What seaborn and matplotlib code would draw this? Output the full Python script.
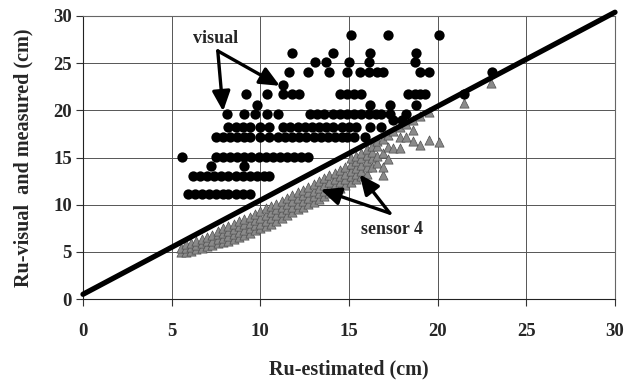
import matplotlib
matplotlib.use("Agg")
import matplotlib.pyplot as plt
import seaborn as sns
import pandas as pd

# ---- data ----
# "visual" (black circles): discrete measured levels and x positions per level
visual_levels = [28.0, 26.1, 25.1, 24.1, 22.7, 21.7, 20.6, 19.6, 19.0, 18.2, 17.2, 15.1, 14.1, 13.0, 11.1]
visual_xs = [
    [15.1, 17.2, 20.1],
    [11.8, 14.1, 16.2, 18.8],
    [13.1, 13.7, 15.0, 16.1, 18.7],
    [11.6, 12.7, 13.9, 14.9, 15.6, 16.1, 16.6, 16.9, 19.0, 19.5, 23.05],
    [11.3],
    [9.2, 10.4, 11.3, 11.8, 12.2, 14.5, 14.9, 15.3, 15.7, 18.3, 18.7, 19.0, 19.3, 21.5],
    [9.8, 16.2, 17.3, 18.8],
    [8.1, 9.1, 9.7, 10.4, 11.0, 12.8, 13.2, 13.6, 14.1, 14.5, 14.9, 15.3, 15.7, 16.1, 16.5, 16.8, 17.3, 18.2],
    [17.5, 18.0],
    [8.2, 8.6, 9.0, 9.4, 10.0, 10.5, 11.3, 11.7, 12.1, 12.5, 12.9, 13.3, 13.7, 14.1, 14.6, 15.0, 15.4, 16.2, 16.8],
    [7.5, 7.9, 8.3, 8.7, 9.1, 9.4, 10.0, 10.5, 11.0, 11.4, 11.8, 12.2, 12.6, 13.0, 13.4, 13.8, 14.2, 14.6, 14.9, 15.3, 15.9],
    [5.6, 7.5, 7.9, 8.3, 8.7, 9.1, 9.5, 9.9, 10.3, 10.7, 11.1, 11.5, 11.9, 12.3, 12.7],
    [7.2, 9.1],
    [6.2, 6.6, 7.0, 7.4, 7.8, 8.2, 8.6, 9.0, 9.4, 9.8, 10.2, 10.5],
    [5.9, 6.3, 6.7, 7.1, 7.5, 7.9, 8.2, 8.6, 9.0, 9.4],
]

# "sensor 4" (gray triangles): x column and the y values read in that column
sensor_cols = [5.5, 5.8, 6.1, 6.4, 6.7, 7.0, 7.3, 7.6, 7.9, 8.2, 8.5, 8.8, 9.1, 9.4, 9.7,
               10.0, 10.3, 10.6, 10.9, 11.2, 11.5, 11.8, 12.1, 12.4, 12.7, 13.0, 13.3, 13.6,
               13.9, 14.2, 14.5, 14.8, 15.1, 15.4, 15.7, 16.0, 16.3, 16.6, 16.9, 17.2, 17.5,
               17.9, 18.2, 18.6, 19.0, 19.5, 20.1, 21.5, 23.0]
sensor_ys = [
    [5.0, 5.4], [5.0, 5.4, 5.8], [5.1, 5.5, 5.9], [5.3, 5.7, 6.1], [5.4, 5.9, 6.4],
    [5.6, 6.1, 6.6], [5.7, 6.2, 6.8], [5.9, 6.4, 6.9, 7.2], [6.0, 6.5, 7.0, 7.5],
    [6.2, 6.7, 7.2, 7.7], [6.4, 6.9, 7.4, 8.0], [6.6, 7.1, 7.7, 8.3], [6.8, 7.3, 7.9, 8.5],
    [7.0, 7.5, 8.1, 8.7], [7.3, 7.8, 8.4, 9.0], [7.5, 8.0, 8.6, 9.3], [7.7, 8.3, 8.9, 9.6],
    [8.0, 8.6, 9.2, 9.9], [8.3, 8.9, 9.5, 10.1], [8.6, 9.2, 9.8, 10.4], [8.9, 9.5, 10.1, 10.7],
    [9.2, 9.8, 10.4, 11.0], [9.5, 10.1, 10.7, 11.3], [9.8, 10.4, 11.0, 11.6],
    [10.1, 10.7, 11.3, 11.9], [10.3, 10.9, 11.5, 12.2], [10.6, 11.2, 11.8, 12.5],
    [10.9, 11.5, 12.1, 12.8], [11.2, 11.8, 12.4, 13.1], [11.5, 12.1, 12.7, 13.4],
    [11.8, 12.4, 13.0, 13.7], [12.1, 12.7, 13.3, 14.0], [12.4, 13.0, 13.6, 14.3, 14.9],
    [12.7, 13.3, 13.9, 14.6, 15.2], [13.0, 13.6, 14.2, 14.9, 15.5], [13.3, 14.0, 14.6, 15.3, 15.9],
    [14.0, 15.0, 15.6, 16.2], [14.4, 15.2, 16.2, 16.8], [13.1, 14.0, 15.5, 17.0],
    [14.8, 16.1, 17.4], [16.0, 17.8], [16.0, 17.2, 18.2], [17.2, 18.6], [16.8, 17.9, 19.0],
    [16.3, 19.4], [16.9, 19.8], [16.6], [20.8], [22.9],
]

line_x = [0, 30]
line_y = [0.5, 30.4]

ticks = [0, 5, 10, 15, 20, 25, 30]
xlabel = "Ru-estimated (cm)"
ylabel = "Ru-visual  and measured (cm)"

# ---- frames ----
vis_df = pd.DataFrame(
    [(x, lvl) for lvl, xs in zip(visual_levels, visual_xs) for x in xs],
    columns=["est", "obs"])
sen_df = pd.DataFrame(
    [(x, y) for x, ys in zip(sensor_cols, sensor_ys) for y in ys],
    columns=["est", "obs"])
line_df = pd.DataFrame({"est": line_x, "obs": line_y})

sns.set_theme(style="white")
plt.rcParams["font.family"] = ["Liberation Serif", "DejaVu Serif"]
plt.rcParams["font.weight"] = "bold"

fig = plt.figure(figsize=(6.28, 3.85), dpi=100)
ax = fig.add_axes([83 / 628, 1 - 299 / 385, (615 - 83) / 628, (299 - 16) / 385])

sns.scatterplot(data=sen_df, x="est", y="obs", marker="^", s=44, color="#8a8a8a",
                edgecolor="#505050", linewidth=0.5, ax=ax, zorder=3)
sns.scatterplot(data=vis_df, x="est", y="obs", marker="o", s=55, color="black",
                edgecolor="black", linewidth=0, ax=ax, zorder=4)
sns.lineplot(data=line_df, x="est", y="obs", color="black", linewidth=3.8, ax=ax,
             zorder=5, clip_on=False)

ax.set_xlim(0, 30)
ax.set_ylim(0, 30)
ax.set_xticks(ticks)
ax.set_yticks(ticks)
ax.set_xticklabels([str(t) for t in ticks], fontsize=13.5, fontweight="bold")
ax.set_yticklabels([str(t) for t in ticks], fontsize=13.5, fontweight="bold")
ax.tick_params(axis="x", direction="out", length=5, width=0.8, color="#333333",
               pad=12, bottom=True)
ax.tick_params(axis="y", direction="out", length=5, width=0.8, color="#333333",
               pad=3, left=True)
ax.grid(True, color="#555555", linewidth=0.7)
for s in ax.spines.values():
    s.set_color("#666666")
    s.set_linewidth(0.8)
ax.spines["left"].set_color("#222222")
ax.spines["bottom"].set_color("#222222")

ax.set_xlabel(xlabel, fontsize=14.5, fontweight="bold", labelpad=14)
ax.set_ylabel(ylabel, fontsize=14.5, fontweight="bold", labelpad=14)

arrow = dict(arrowstyle="-|>,head_length=1.0,head_width=0.45", color="black", lw=2.4,
             shrinkA=0, shrinkB=0)
ax.text(7.45, 27.6, "visual", fontsize=13, fontweight="bold", ha="center", va="center", zorder=6)
ax.annotate("", xy=(7.9, 19.9), xytext=(7.6, 26.3), arrowprops=arrow, zorder=6)
ax.annotate("", xy=(11.1, 22.6), xytext=(7.6, 26.3), arrowprops=arrow, zorder=6)

ax.text(17.4, 7.4, "sensor 4", fontsize=13, fontweight="bold", ha="center", va="center", zorder=6)
ax.annotate("", xy=(15.6, 13.2), xytext=(17.3, 9.1), arrowprops=arrow, zorder=6)
ax.annotate("", xy=(13.4, 11.6), xytext=(17.3, 9.1), arrowprops=arrow, zorder=6)

fig.savefig("out.png", dpi=100)
